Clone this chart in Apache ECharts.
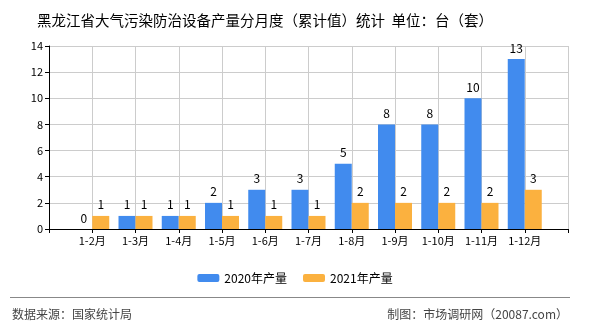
<!DOCTYPE html>
<html>
<head>
<meta charset="utf-8">
<script src="https://cdn.jsdelivr.net/npm/echarts@6/dist/echarts.min.js"></script>
<style>
  html, body { margin: 0; padding: 0; background: #fff; }
  #main { width: 590px; height: 330px; }
</style>
</head>
<body>
<div id="main"></div>
<script>
// empty slots at both ends so the ticks sit on the category centres
var categories = ['', '1-2月', '1-3月', '1-4月', '1-5月', '1-6月', '1-7月', '1-8月', '1-9月', '1-10月', '1-11月', '1-12月', ''];
var output2020 = [null, 0, 1, 1, 2, 3, 3, 5, 8, 8, 10, 13, null];
var output2021 = [null, 1, 1, 1, 1, 1, 1, 2, 2, 2, 2, 3, null];
var yTicks = { min: 0, max: 14, interval: 2 };

var font = '"Noto Sans CJK SC", "Noto Sans", sans-serif';

var chart = echarts.init(document.getElementById('main'), null, { renderer: 'canvas' });

function barLabel() {
  return { show: true, position: 'top', color: '#000', fontSize: 12, fontFamily: font, distance: 5 };
}

chart.setOption({
  animation: false,
  title: {
    text: '黑龙江省大气污染防治设备产量分月度（累计值）统计  单位：台（套）',
    left: 32,
    top: 8,
    textStyle: { fontSize: 14.5, fontWeight: 'normal', color: '#000', fontFamily: font }
  },
  grid: { left: 49, right: 22, top: 46, bottom: 101 },
  legend: {
    top: 267,
    left: 'center',
    itemWidth: 22,
    itemHeight: 8,
    itemGap: 16,
    textStyle: { fontSize: 12, color: '#000', fontFamily: font },
    data: ['2020年产量', '2021年产量']
  },
  xAxis: {
    type: 'category',
    data: categories,
    boundaryGap: false,
    axisLine: { lineStyle: { color: '#000', width: 1 } },
    axisTick: { show: true, length: 4, lineStyle: { color: '#000' } },
    axisLabel: { color: '#000', fontSize: 11, fontFamily: font, margin: 6, interval: 0 },
    splitLine: { show: true, lineStyle: { color: '#ccc' } }
  },
  yAxis: {
    type: 'value',
    min: yTicks.min,
    max: yTicks.max,
    interval: yTicks.interval,
    axisLine: { show: true, lineStyle: { color: '#000' } },
    axisTick: { show: true, length: 4, lineStyle: { color: '#000' } },
    axisLabel: { color: '#000', fontSize: 11, fontFamily: font, margin: 6 },
    splitLine: { lineStyle: { color: '#ccc' } }
  },
  graphic: [
    { type: 'line', shape: { x1: 10, y1: 297.5, x2: 570, y2: 297.5 }, style: { stroke: '#888', lineWidth: 1 } },
    { type: 'text', left: 12, top: 308, style: { text: '数据来源：国家统计局', fontSize: 12, fill: '#444', fontFamily: font } },
    { type: 'text', right: 22, top: 308, style: { text: '制图：市场调研网（20087.com）', fontSize: 12, fill: '#444', fontFamily: font } }
  ],
  series: [
    {
      name: '2020年产量',
      type: 'bar',
      data: output2020,
      barWidth: 17,
      barGap: '0%',
      itemStyle: { color: '#418BEE' },
      label: barLabel()
    },
    {
      name: '2021年产量',
      type: 'bar',
      data: output2021,
      barWidth: 17,
      itemStyle: { color: '#FBB13F' },
      label: barLabel()
    }
  ]
});
</script>
</body>
</html>
